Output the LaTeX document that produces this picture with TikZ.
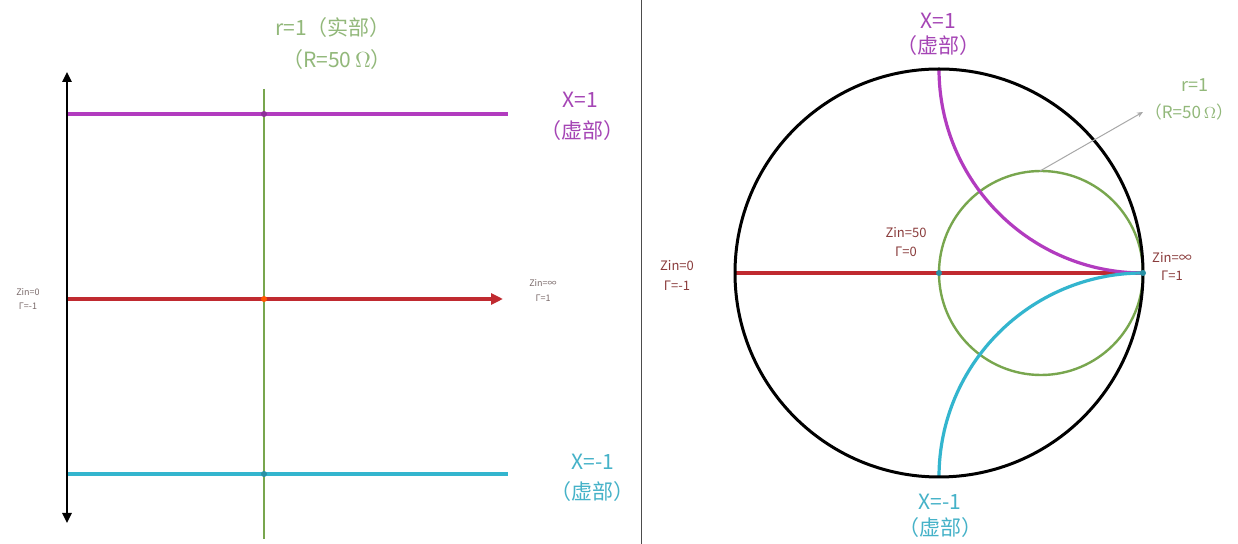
\documentclass[tikz,border=0pt]{standalone}
\usepackage{fontspec}
\setmainfont{Noto Sans CJK SC}
\usetikzlibrary{arrows.meta}
\definecolor{cpurple}{HTML}{B23BBF}
\definecolor{cpurpletxt}{HTML}{A545B5}
\definecolor{cred}{HTML}{C02A30}
\definecolor{ccyan}{HTML}{33B5CE}
\definecolor{ccyantxt}{HTML}{45B2C8}
\definecolor{cgreen}{HTML}{78A64E}
\definecolor{cgreentxt}{HTML}{92B87A}
\definecolor{cgrey}{HTML}{A8A8A8}
\definecolor{csmall}{HTML}{8A3C3C}
\definecolor{csmallL}{HTML}{7A6A6A}
\begin{document}
\begin{tikzpicture}[x=0.5pt,y=-0.5pt,
  lbl/.style={inner sep=0pt,font=\fontsize{10.5pt}{12pt}\selectfont},
  smallR/.style={inner sep=0pt,text=csmall,font=\fontsize{6.5pt}{8pt}\selectfont},
  smallL/.style={inner sep=0pt,text=csmallL,font=\fontsize{4.5pt}{5pt}\selectfont},
  ln/.style={line width=1.6pt},
  dot/.style={circle,inner sep=0pt,minimum size=3pt}]
\fill[white] (0,0) rectangle (1238,544);
\useasboundingbox (0,0) rectangle (1238,544);
% divider
\draw[line width=0.5pt,black!70] (641,0) -- (641,544);

% ---------- left panel ----------
\coordinate (aT) at (67,72);
\coordinate (aB) at (67,523);
\coordinate (pL) at (67,114);
\coordinate (pR) at (508,114);
\coordinate (rL) at (67,299);
\coordinate (rR) at (503,299);
\coordinate (cL) at (67,474);
\coordinate (cR) at (508,474);
\coordinate (gT) at (264,89);
\coordinate (gB) at (264,539);
\draw[ln,cpurple] (pL) -- (pR);
\draw[ln,cred,-{Triangle[length=6pt,width=5.5pt]}] (rL) -- (rR);
\draw[ln,ccyan] (cL) -- (cR);
\draw[line width=1pt,cgreen] (gT) -- (gB);
\draw[line width=1.2pt,{Triangle[length=5pt,width=4.5pt]}-{Triangle[length=5pt,width=4.5pt]}] (aT) -- (aB);
\node[dot,fill=cpurple!80!black] (d1) at (264,114) {};
\node[dot,fill=orange!70!red] (d2) at (264,299) {};
\node[dot,fill=ccyan!80!black] (d3) at (264,474) {};

\node[lbl,text=cgreentxt] (t1) at (333,28) {r=1（实部）};
\node[lbl,text=cgreentxt] (t2) at (337,60) {（R=50$\,\Omega$）};
\node[lbl,text=cpurpletxt] (t3) at (580,100) {X=1};
\node[lbl,text=cpurpletxt] (t4) at (582,131) {（虚部）};
\node[lbl,text=ccyantxt] (t5) at (593,462) {X=-1};
\node[lbl,text=ccyantxt] (t6) at (592,492) {（虚部）};
\node[smallL] (t7) at (28,292) {Zin=0};
\node[smallL] (t8) at (28,306) {Γ=-1};
\node[smallL] (t9) at (543,283) {Zin=∞};
\node[smallL] (t10) at (543,298) {Γ=1};

% ---------- right panel ----------
\coordinate (O) at (939,273);
\coordinate (Lp) at (735,273);
\coordinate (Rp) at (1143,273);
\coordinate (Tp) at (939,69);
\coordinate (Bp) at (939,477);
\coordinate (gtop) at (1040,171);
\coordinate (aend) at (1143,112);
\draw[ln,cred] (Lp) -- (Rp);
\draw[line width=1.2pt,cgreen] (1041,273) circle[radius=102];
\draw[ln,cpurple] (Tp) arc[start angle=180,end angle=90,radius=204];
\draw[ln,ccyan] (Bp) arc[start angle=180,end angle=270,radius=204];
\draw[line width=1.5pt,black] (O) circle[radius=204];
\draw[line width=0.5pt,cgrey,-{Stealth[length=3pt,width=2.5pt]}] (gtop) -- (aend);
\node[dot,fill=ccyan!80!black] (d4) at (939,273) {};
\node[dot,fill=ccyan!80!black] (d5) at (1143,273) {};

\node[lbl,text=cpurpletxt] (u1) at (938,21) {X=1};
\node[lbl,text=cpurpletxt] (u2) at (938,46) {（虚部）};
\node[lbl,text=ccyantxt] (u3) at (940,502) {X=-1};
\node[lbl,text=ccyantxt] (u4) at (940,528) {（虚部）};
\node[lbl,text=cgreentxt,font=\fontsize{9pt}{10pt}\selectfont] (u5) at (1195,85) {r=1};
\node[lbl,text=cgreentxt,font=\fontsize{8.5pt}{10pt}\selectfont] (u6) at (1189,112) {（R=50$\,\Omega$）};
\node[smallR] (u7) at (906,233) {Zin=50};
\node[smallR] (u8) at (906,252) {Γ=0};
\node[smallR] (u9) at (677,266) {Zin=0};
\node[smallR] (u10) at (677,286) {Γ=-1};
\node[smallR] (u11) at (1172,257) {Zin=∞};
\node[smallR] (u12) at (1172,276) {Γ=1};
\end{tikzpicture}
\end{document}
